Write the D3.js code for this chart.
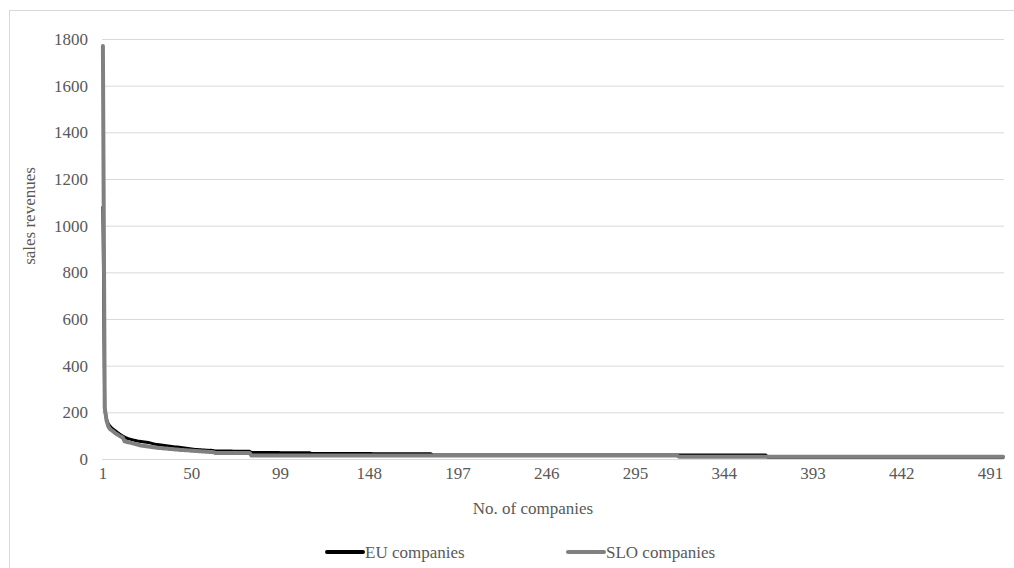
<!DOCTYPE html>
<html>
<head>
<meta charset="utf-8">
<script src="https://cdn.jsdelivr.net/npm/d3@7"></script>
<style>
  html, body { margin: 0; padding: 0; background: #fff; }
  svg { display: block; }
  text { font-family: "Liberation Serif", "Times New Roman", serif; fill: #595959; }
</style>
</head>
<body>
<svg id="chart" width="1014" height="568"></svg>
<script>
// Sales revenues of companies ranked from largest to smallest
const seriesNames = ["EU companies", "SLO companies"];

const euRevenues = [
  1080,215,170,150,140,132,126,120,114,108,103,98,94,90,87,85,83,81,79,77,
  76,75,74,73,72,71,69,67,65,63,62,61,60,59,58,57,56,55,54,53,
  52,51,50,49,48,47,46,45,44,43,42,41,41,40,40,39,39,38,38,37,
  37,36,34,34,34,34,34,34,34,34,34,34,33,33,33,33,33,33,33,33,
  33,33,28,28,28,28,28,28,28,28,28,28,28,28,28,28,28,28,27,27,
  27,27,27,27,27,27,27,27,27,27,27,27,27,27,27,24,24,24,24,24,
  24,24,24,24,24,24,24,24,24,24,24,24,24,24,24,24,24,24,24,24,
  24,24,24,24,24,24,24,24,24,23,23,23,23,23,23,23,23,23,23,23,
  23,23,23,23,23,23,23,23,23,23,23,23,23,23,23,23,23,23,23,23,
  23,23,17,17,17,17,17,17,17,17,17,17,17,17,17,17,17,17,17,17,
  17,17,17,17,17,17,17,17,17,17,17,17,17,17,17,17,17,17,17,17,
  17,17,17,17,17,17,17,17,17,17,17,17,17,17,17,17,17,17,17,17,
  17,17,17,17,17,17,17,17,17,17,17,17,17,17,17,17,17,17,17,17,
  17,17,17,17,17,17,17,17,17,17,17,17,17,17,17,17,17,17,17,17,
  17,17,17,17,17,17,17,17,17,17,17,17,17,17,17,17,17,17,17,17,
  17,17,17,17,17,17,17,17,17,17,17,17,17,17,17,17,17,17,17,17,
  17,17,17,17,17,17,17,17,17,17,17,17,17,17,17,17,17,17,17,17,
  17,17,17,17,17,17,17,17,17,17,17,17,17,17,17,17,17,17,17,17,
  17,17,17,17,17,17,17,8,8,8,8,8,8,8,8,8,8,8,8,8,
  8,8,8,8,8,8,8,8,8,8,8,8,8,8,8,8,8,8,8,8,
  8,8,8,8,8,8,8,8,8,8,8,8,8,8,8,8,8,8,8,8,
  8,8,8,8,8,8,8,8,8,8,8,8,8,8,8,8,8,8,8,8,
  8,8,8,8,8,8,8,8,8,8,8,8,8,8,8,8,8,8,8,8,
  8,8,8,8,8,8,8,8,8,8,8,8,8,8,8,8,8,8,8,8,
  8,8,8,8,8,8,8,8,8,8,8,8,8,8,8,8,8,8
];

const sloRevenues = [
  1770,220,165,140,128,122,116,110,105,100,96,92,76,74,72,70,68,66,64,62,
  60,58,57,56,55,54,52,51,50,49,48,47,47,46,45,45,44,43,43,42,
  41,41,40,39,39,38,38,37,36,35,35,34,34,33,33,32,32,31,31,30,
  30,29,26,26,26,26,26,26,26,26,26,26,26,26,26,26,26,26,26,26,
  26,26,15,15,15,15,15,15,15,15,15,15,15,15,15,15,15,15,15,15,
  15,15,15,15,15,15,15,15,15,15,15,15,15,15,15,15,15,15,15,15,
  15,15,15,15,15,15,15,15,15,15,15,15,15,15,15,15,15,15,15,15,
  15,15,15,15,15,15,15,15,15,15,15,15,15,15,15,15,15,15,15,15,
  15,15,15,15,15,15,15,15,15,15,15,15,15,15,15,15,15,15,15,15,
  15,15,15,15,15,15,15,15,15,15,15,15,15,15,15,15,15,15,15,15,
  15,15,15,15,15,15,15,15,15,15,15,15,15,15,15,15,15,15,15,15,
  15,15,15,15,15,15,15,15,15,15,15,15,15,15,15,15,15,15,15,15,
  15,15,15,15,15,15,15,15,15,15,15,15,15,15,15,15,15,15,15,15,
  15,15,15,15,15,15,15,15,15,15,15,15,15,15,15,15,15,15,15,15,
  15,15,15,15,15,15,15,15,15,15,15,15,15,15,15,15,15,15,15,15,
  15,15,15,15,15,15,15,15,15,15,15,15,15,15,15,15,15,15,10,10,
  10,10,10,10,10,10,10,10,10,10,10,10,10,10,10,10,10,10,10,10,
  10,10,10,10,10,10,10,10,10,10,10,10,10,10,10,10,10,10,10,10,
  10,10,10,10,10,10,10,10,10,10,10,10,10,10,10,10,10,10,10,10,
  10,10,10,10,10,10,10,10,10,10,10,10,10,10,10,10,10,10,10,10,
  10,10,10,10,10,10,10,10,10,10,10,10,10,10,10,10,10,10,10,10,
  10,10,10,10,10,10,10,10,10,10,10,10,10,10,10,10,10,10,10,10,
  10,10,10,10,10,10,10,10,10,10,10,10,10,10,10,10,10,10,10,10,
  10,10,10,10,10,10,10,10,10,10,10,10,10,10,10,10,10,10,10,10,
  10,10,10,10,10,10,10,10,10,10,10,10,10,10,10,10,10,10
];

const yTickValues = [0, 200, 400, 600, 800, 1000, 1200, 1400, 1600, 1800];
const xTickLabels = [1, 50, 99, 148, 197, 246, 295, 344, 393, 442, 491];

const colors = ["#000000", "#808080"];
const widths = [3, 4];
const fontSize = 17;

const svg = d3.select("#chart");
const plot = { left: 102, right: 1004, top: 39, bottom: 459 };

// chart area frame
svg.append("rect")
  .attr("x", 9.5).attr("y", 10.5)
  .attr("width", 1020).attr("height", 580)
  .attr("fill", "#fff").attr("stroke", "#d9d9d9").attr("stroke-width", 1);

const nCompanies = Math.max(euRevenues.length, sloRevenues.length);
const companies = d3.range(1, nCompanies + 1);

const x = d3.scaleBand().domain(companies).range([plot.left, plot.right]);
const y = d3.scaleLinear().domain([0, 1800]).range([plot.bottom, plot.top]);
const cx = c => x(c) + x.bandwidth() / 2;

// y axis with horizontal gridlines
const yAxis = svg.append("g")
  .attr("transform", `translate(${plot.left},0)`)
  .call(d3.axisLeft(y).tickValues(yTickValues)
    .tickSize(-(plot.right - plot.left)).tickPadding(14).tickFormat(d3.format("d")));
yAxis.select(".domain").remove();
yAxis.selectAll(".tick line").attr("stroke", "#d9d9d9").attr("stroke-width", 1);
yAxis.selectAll(".tick text").attr("font-size", fontSize).attr("fill", "#595959")
  .style("font-family", '"Liberation Serif", serif');

// x axis labels
const xAxis = svg.append("g")
  .attr("transform", `translate(0,${plot.bottom})`)
  .call(d3.axisBottom(x).tickValues(xTickLabels).tickSize(0).tickPadding(8));
xAxis.select(".domain").remove();
xAxis.selectAll(".tick text").attr("font-size", fontSize).attr("fill", "#595959")
  .style("font-family", '"Liberation Serif", serif');

// axis titles
svg.append("text")
  .attr("x", 533).attr("y", 514)
  .attr("text-anchor", "middle").attr("font-size", fontSize)
  .text("No. of companies");

svg.append("text")
  .attr("transform", "translate(35,216) rotate(-90)")
  .attr("text-anchor", "middle").attr("font-size", fontSize)
  .text("sales revenues");

// series lines
const line = d3.line().x((d, i) => cx(i + 1)).y(d => y(d));
[euRevenues, sloRevenues].forEach((vals, k) => {
  svg.append("path")
    .datum(vals)
    .attr("d", line)
    .attr("fill", "none")
    .attr("stroke", colors[k])
    .attr("stroke-width", widths[k])
    .attr("stroke-linejoin", "round")
    .attr("stroke-linecap", "round");
});

// legend
const legendX = [327, 568];
seriesNames.forEach((name, k) => {
  const g = svg.append("g").attr("transform", `translate(${legendX[k]},552)`);
  g.append("line").attr("x1", 0).attr("x2", 36).attr("y1", 0).attr("y2", 0)
    .attr("stroke", colors[k]).attr("stroke-width", 4).attr("stroke-linecap", "round");
  g.append("text").attr("x", 38).attr("y", 6).attr("font-size", fontSize).text(name);
});
</script>
</body>
</html>
